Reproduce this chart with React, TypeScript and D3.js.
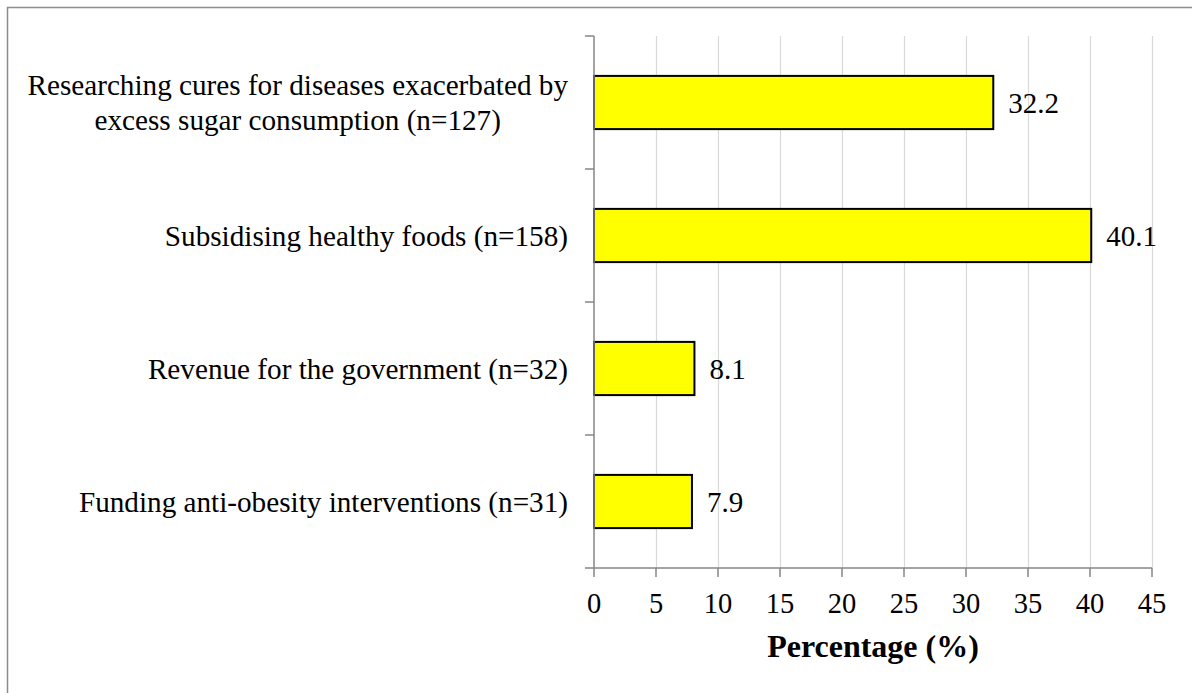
import React, { useEffect, useRef } from "react";
import * as d3 from "d3";

// Survey categories (top to bottom) with their wrapped label lines
const categories = [
  "Researching cures for diseases exacerbated by excess sugar consumption (n=127)",
  "Subsidising healthy foods (n=158)",
  "Revenue for the government (n=32)",
  "Funding anti-obesity interventions (n=31)",
];
const labelLines = [
  ["Researching cures for diseases exacerbated by", "excess sugar consumption (n=127)"],
  ["Subsidising healthy foods (n=158)"],
  ["Revenue for the government (n=32)"],
  ["Funding anti-obesity interventions (n=31)"],
];
const percentages = [32.2, 40.1, 8.1, 7.9];
const xTicks = [0, 5, 10, 15, 20, 25, 30, 35, 40, 45];
const xTitle = "Percentage (%)";

const W = 1192;
const H = 693;
const FONT = "'Liberation Serif', 'Times New Roman', serif";

export default function App() {
  const ref = useRef<SVGSVGElement | null>(null);

  useEffect(() => {
    const svg = d3.select(ref.current);
    svg.selectAll("*").remove();

    const left = 594;
    const right = 1152;
    const top = 36;
    const bottom = 568;

    const x = d3.scaleLinear().domain([0, 45]).range([left, right]);
    const y = d3
      .scaleBand<string>()
      .domain(categories)
      .range([top, bottom])
      .paddingInner(0.6)
      .paddingOuter(0.3);

    // Outer frame
    svg
      .append("rect")
      .attr("x", 7.5)
      .attr("y", 7.5)
      .attr("width", W + 20)
      .attr("height", H + 20)
      .attr("fill", "#fff")
      .attr("stroke", "#8c8c8c")
      .attr("stroke-width", 1.5);

    // Vertical gridlines
    svg
      .append("g")
      .selectAll("line")
      .data(xTicks.filter((t) => t > 0))
      .join("line")
      .attr("x1", (d) => Math.round(x(d)) + 0.5)
      .attr("x2", (d) => Math.round(x(d)) + 0.5)
      .attr("y1", top)
      .attr("y2", bottom)
      .attr("stroke", "#d9d9d9")
      .attr("stroke-width", 1.2);

    // Bars
    svg
      .append("g")
      .selectAll("rect")
      .data(percentages)
      .join("rect")
      .attr("x", x(0))
      .attr("y", (_, i) => y(categories[i])!)
      .attr("width", (d) => x(d) - x(0))
      .attr("height", y.bandwidth())
      .attr("fill", "#ffff00")
      .attr("stroke", "#000")
      .attr("stroke-width", 2);

    // Axis lines and ticks
    const axisColor = "#868686";
    const ax = svg.append("g").attr("stroke", axisColor).attr("stroke-width", 1.5);
    ax.append("line").attr("x1", x(0)).attr("x2", x(0)).attr("y1", top).attr("y2", bottom);
    ax.append("line").attr("x1", x(0) - 9).attr("x2", right).attr("y1", bottom).attr("y2", bottom);
    const step = (bottom - top) / categories.length;
    ax.selectAll("line.yt")
      .data(d3.range(categories.length))
      .join("line")
      .attr("class", "yt")
      .attr("x1", x(0) - 9)
      .attr("x2", x(0))
      .attr("y1", (i) => top + i * step)
      .attr("y2", (i) => top + i * step);
    ax.selectAll("line.xt")
      .data(xTicks)
      .join("line")
      .attr("class", "xt")
      .attr("x1", (d) => x(d))
      .attr("x2", (d) => x(d))
      .attr("y1", bottom)
      .attr("y2", bottom + 9);

    // X tick labels
    svg
      .append("g")
      .selectAll("text")
      .data(xTicks)
      .join("text")
      .attr("x", (d) => x(d))
      .attr("y", bottom + 45)
      .attr("text-anchor", "middle")
      .attr("font-family", FONT)
      .attr("font-size", 28.5)
      .attr("fill", "#000")
      .text((d) => d);

    // X axis title
    svg
      .append("text")
      .attr("x", (left + right) / 2)
      .attr("y", 657)
      .attr("text-anchor", "middle")
      .attr("font-family", FONT)
      .attr("font-size", 32)
      .attr("font-weight", "bold")
      .attr("fill", "#000")
      .text(xTitle);

    // Value labels
    svg
      .append("g")
      .selectAll("text")
      .data(percentages)
      .join("text")
      .attr("x", (d) => x(d) + 15)
      .attr("y", (_, i) => y(categories[i])! + y.bandwidth() / 2)
      .attr("dy", "0.35em")
      .attr("font-family", FONT)
      .attr("font-size", 29)
      .attr("fill", "#000")
      .text((d) => d.toFixed(1));

    // Category labels: block right-aligned, lines centred within block
    const labelRight = 568;
    const lineH = 35;
    categories.forEach((c, i) => {
      const lines = labelLines[i];
      const cy = y(c)! + y.bandwidth() / 2;
      const g = svg.append("g");
      const texts = lines.map((l, j) =>
        g
          .append("text")
          .attr("y", cy + (j - (lines.length - 1) / 2) * lineH)
          .attr("dy", "0.35em")
          .attr("text-anchor", "middle")
          .attr("font-family", FONT)
          .attr("font-size", 29.2)
          .attr("fill", "#000")
          .text(l)
      );
      const widths = texts.map((t) => (t.node() as SVGTextElement).getComputedTextLength());
      const maxW = Math.max(...widths);
      texts.forEach((t) => t.attr("x", labelRight - maxW / 2));
    });
  }, []);

  return (
    <svg
      ref={ref}
      width={W}
      height={H}
      style={{ position: "absolute", left: 0, top: 0, display: "block" }}
    />
  );
}
